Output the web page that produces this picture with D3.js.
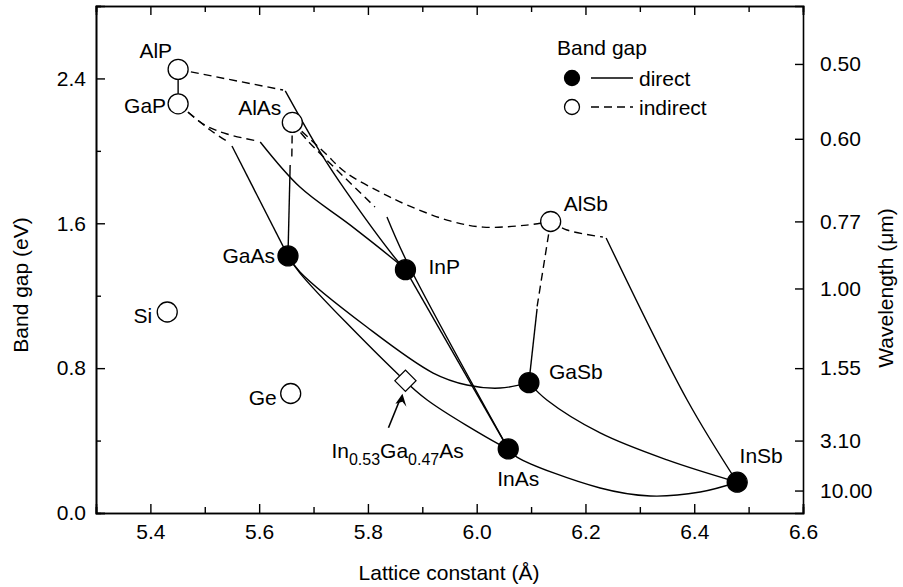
<!DOCTYPE html>
<html>
<head>
<meta charset="utf-8">
<script src="https://cdn.jsdelivr.net/npm/d3@7"></script>
<style>
  body { margin: 0; background: #fff; }
  text { font-family: "Liberation Sans", Arial, sans-serif; fill: #000; }
</style>
</head>
<body>
<svg id="chart" width="903" height="587"></svg>
<script>
// binary compounds: lattice constant (Å) and band gap (eV)
const compounds = ['AlP', 'GaP', 'AlAs', 'Si', 'Ge', 'GaAs', 'InP', 'AlSb', 'GaSb', 'InAs', 'InSb'];
const latticeConst = [5.451, 5.451, 5.661, 5.431, 5.658, 5.653, 5.869, 6.136, 6.096, 6.058, 6.479];
const bandGap = [2.45, 2.26, 2.157, 1.11, 0.66, 1.42, 1.344, 1.61, 0.72, 0.354, 0.17];
const gapKind = ['indirect', 'indirect', 'indirect', 'indirect', 'indirect', 'direct', 'direct', 'indirect', 'direct', 'direct', 'direct'];

// ternary alloy curves [lattice constant, band gap]
const alGaP = [[5.451, 2.45], [5.451, 2.26]];
const alInPInd = [[5.451, 2.45], [5.644, 2.336]];
const alInPDir = [[5.648, 2.331], [5.712, 1.994], [5.758, 1.784], [5.853, 1.397], [5.869, 1.344]];
const gaAsPInd = [[5.451, 2.26], [5.510, 2.115], [5.543, 2.049]];
const gaAsPDir = [[5.550, 2.027], [5.653, 1.42]];
const gaInPInd = [[5.451, 2.26], [5.500, 2.143], [5.541, 2.093], [5.598, 2.054]];
const gaInPDir = [[5.602, 2.049], [5.675, 1.800], [5.767, 1.591], [5.853, 1.386], [5.869, 1.344]];
const alGaAsInd = [[5.661, 2.157], [5.660, 1.950]];
const alGaAsDir = [[5.657, 1.922], [5.653, 1.42]];
const alInAsInd = [[5.661, 2.157], [5.688, 2.060], [5.743, 1.894], [5.813, 1.690]];
const alInAsDir = [[5.835, 1.635], [5.872, 1.386], [6.058, 0.354]];
const alAsSbInd = [[5.661, 2.157], [5.721, 1.988], [5.758, 1.883], [5.822, 1.773], [5.872, 1.701],
  [5.951, 1.613], [6.012, 1.579], [6.092, 1.590], [6.136, 1.61]];
const alInSbInd = [[6.136, 1.61], [6.166, 1.563], [6.232, 1.524]];
const alInSbDir = [[6.238, 1.519], [6.387, 0.624], [6.479, 0.17]];
const alGaSbInd = [[6.136, 1.61], [6.111, 1.138]];
const alGaSbDir = [[6.111, 1.127], [6.096, 0.72]];
const inAsPDir = [[5.869, 1.344], [6.058, 0.354]];
const inGaAsDir = [[5.653, 1.42], [5.675, 1.325], [5.853, 0.773], [5.909, 0.624], [6.043, 0.376], [6.058, 0.354]];
const gaAsSbDir = [[5.653, 1.42], [5.675, 1.331], [5.798, 1.027], [5.920, 0.773], [5.982, 0.707], [6.043, 0.690], [6.096, 0.72]];
const gaInSbDir = [[6.096, 0.72], [6.129, 0.624], [6.227, 0.442], [6.350, 0.293], [6.479, 0.17]];
const inAsSbDir = [[6.058, 0.354], [6.074, 0.309], [6.227, 0.138], [6.319, 0.094], [6.411, 0.116], [6.479, 0.17]];

const directCurves = [alGaP, alInPDir, gaAsPDir, gaInPDir, alGaAsDir, alInAsDir, alInSbDir, alGaSbDir,
  inAsPDir, inGaAsDir, gaAsSbDir, gaInSbDir, inAsSbDir];
const indirectCurves = [alInPInd, gaAsPInd, gaInPInd, alGaAsInd, alInAsInd, alAsSbInd, alInSbInd, alGaSbInd];

// lattice-matched In0.53Ga0.47As
const inGaAsMatched = [5.869, 0.73];

// axis ticks
const xMajor = [5.4, 5.6, 5.8, 6.0, 6.2, 6.4, 6.6];
const xMinor = [5.3, 5.5, 5.7, 5.9, 6.1, 6.3, 6.5];
const yMajor = [0.0, 0.8, 1.6, 2.4];
const yMinor = [0.4, 1.2, 2.0, 2.8];
const wavelengths = [0.50, 0.60, 0.77, 1.00, 1.55, 3.10, 10.00];

// label offsets from each compound marker (px)
const labelPos = {
  AlP: [-6, -11, 'end'], GaP: [-12, 9, 'end'], AlAs: [-11, -7, 'end'], Si: [-15, 11, 'end'],
  Ge: [-14, 12, 'end'], GaAs: [-13, 7, 'end'], InP: [23, 4, 'start'], AlSb: [13, -10, 'start'],
  GaSb: [20, -4, 'start'], InAs: [10, 37, 'middle'], InSb: [24, -19, 'middle']
};

const svg = d3.select('#chart');
const x = d3.scaleLinear().domain([5.3, 6.6]).range([96, 803]);
const y = d3.scaleLinear().domain([0, 2.8]).range([513, 6]);
const fs = 21;

// axes
const axisG = svg.append('g');
axisG.append('g').attr('transform', 'translate(0,513)')
  .call(d3.axisBottom(x).tickValues(xMajor).tickSize(-9).tickPadding(11).tickFormat(d3.format('.1f')));
axisG.append('g').attr('transform', 'translate(0,513)')
  .call(d3.axisBottom(x).tickValues(xMinor).tickSize(-6).tickFormat(''));
axisG.append('g').attr('transform', 'translate(0,6)')
  .call(d3.axisTop(x).tickValues(xMajor).tickSize(-9).tickFormat(''));
axisG.append('g').attr('transform', 'translate(0,6)')
  .call(d3.axisTop(x).tickValues(xMinor).tickSize(-6).tickFormat(''));
axisG.append('g').attr('transform', 'translate(96,0)')
  .call(d3.axisLeft(y).tickValues(yMajor).tickSize(-9).tickPadding(10).tickFormat(d3.format('.1f')));
axisG.append('g').attr('transform', 'translate(96,0)')
  .call(d3.axisLeft(y).tickValues(yMinor).tickSize(-5).tickFormat(''));
const lambdaToE = (l) => 1.24 / l;
axisG.append('g').attr('transform', 'translate(803,0)')
  .call(d3.axisRight(y).tickValues(wavelengths.map(lambdaToE)).tickSize(-8).tickPadding(17)
    .tickFormat((d, i) => d3.format('.2f')(wavelengths[i])));

axisG.selectAll('.domain').attr('stroke', '#000').attr('stroke-width', 1.6);
axisG.selectAll('.tick line').attr('stroke', '#000').attr('stroke-width', 1.4);
axisG.selectAll('.tick text').attr('font-size', fs).attr('font-family', '"Liberation Sans", Arial, sans-serif');

// titles
svg.append('text').attr('x', 449).attr('y', 580).attr('text-anchor', 'middle')
  .attr('font-size', fs).text('Lattice constant (Å)');
svg.append('text').attr('transform', 'translate(28,285) rotate(-90)').attr('text-anchor', 'middle')
  .attr('font-size', fs).text('Band gap (eV)');
svg.append('text').attr('transform', 'translate(893,288) rotate(-90)').attr('text-anchor', 'middle')
  .attr('font-size', fs).text('Wavelength (μm)');

// curves
const line = d3.line().x((d) => x(d[0])).y((d) => y(d[1])).curve(d3.curveCatmullRom.alpha(0.5));
const curveG = svg.append('g').attr('fill', 'none').attr('stroke', '#000').attr('stroke-width', 1.4);
curveG.selectAll('path.direct').data(directCurves).join('path')
  .attr('class', 'direct').attr('d', line);
curveG.selectAll('path.indirect').data(indirectCurves).join('path')
  .attr('class', 'indirect').attr('d', line).attr('stroke-dasharray', '8,5');

// lattice-matched marker and arrow
const mx = x(inGaAsMatched[0]);
const my = y(inGaAsMatched[1]);
svg.append('rect').attr('x', mx - 7.5).attr('y', my - 7.5).attr('width', 15).attr('height', 15)
  .attr('transform', `rotate(45,${mx},${my})`)
  .attr('fill', '#fff').attr('stroke', '#000').attr('stroke-width', 1.2);
svg.append('line').attr('x1', mx - 17).attr('y1', my + 47).attr('x2', mx - 6).attr('y2', my + 20)
  .attr('stroke', '#000').attr('stroke-width', 1.6);
svg.append('path')
  .attr('d', `M${mx - 3},${my + 13} L${mx - 10},${my + 23} L${mx - 3},${my + 21} L${mx + 1},${my + 26} Z`)
  .attr('fill', '#000');
const sub = svg.append('text').attr('x', mx - 74).attr('y', my + 77).attr('font-size', fs);
sub.append('tspan').text('In');
sub.append('tspan').attr('dy', 7).attr('font-size', 16).text('0.53');
sub.append('tspan').attr('dy', -7).text('Ga');
sub.append('tspan').attr('dy', 7).attr('font-size', 16).text('0.47');
sub.append('tspan').attr('dy', -7).text('As');

// compound markers
const points = compounds.map((c, i) => ({ name: c, a: latticeConst[i], e: bandGap[i], kind: gapKind[i] }));
svg.append('g').selectAll('circle').data(points).join('circle')
  .attr('cx', (d) => x(d.a)).attr('cy', (d) => y(d.e)).attr('r', 10)
  .attr('fill', (d) => (d.kind === 'direct' ? '#000' : '#fff'))
  .attr('stroke', '#000').attr('stroke-width', 1.3);
svg.append('g').selectAll('text').data(points).join('text')
  .attr('x', (d) => x(d.a) + labelPos[d.name][0])
  .attr('y', (d) => y(d.e) + labelPos[d.name][1])
  .attr('text-anchor', (d) => labelPos[d.name][2])
  .attr('font-size', fs)
  .text((d) => d.name);

// legend
const legend = svg.append('g');
legend.append('text').attr('x', 557).attr('y', 55).attr('font-size', fs).text('Band gap');
[['direct', '#000', null], ['indirect', '#fff', '8,5']].forEach(([label, fill, dash], i) => {
  const ly = 78 + i * 29;
  legend.append('circle').attr('cx', 572).attr('cy', ly).attr('r', 7.5)
    .attr('fill', fill).attr('stroke', '#000').attr('stroke-width', 1.3);
  legend.append('line').attr('x1', 591).attr('x2', 633).attr('y1', ly).attr('y2', ly)
    .attr('stroke', '#000').attr('stroke-width', 1.4).attr('stroke-dasharray', dash);
  legend.append('text').attr('x', 639).attr('y', ly + 8).attr('font-size', fs).text(label);
});
</script>
</body>
</html>
